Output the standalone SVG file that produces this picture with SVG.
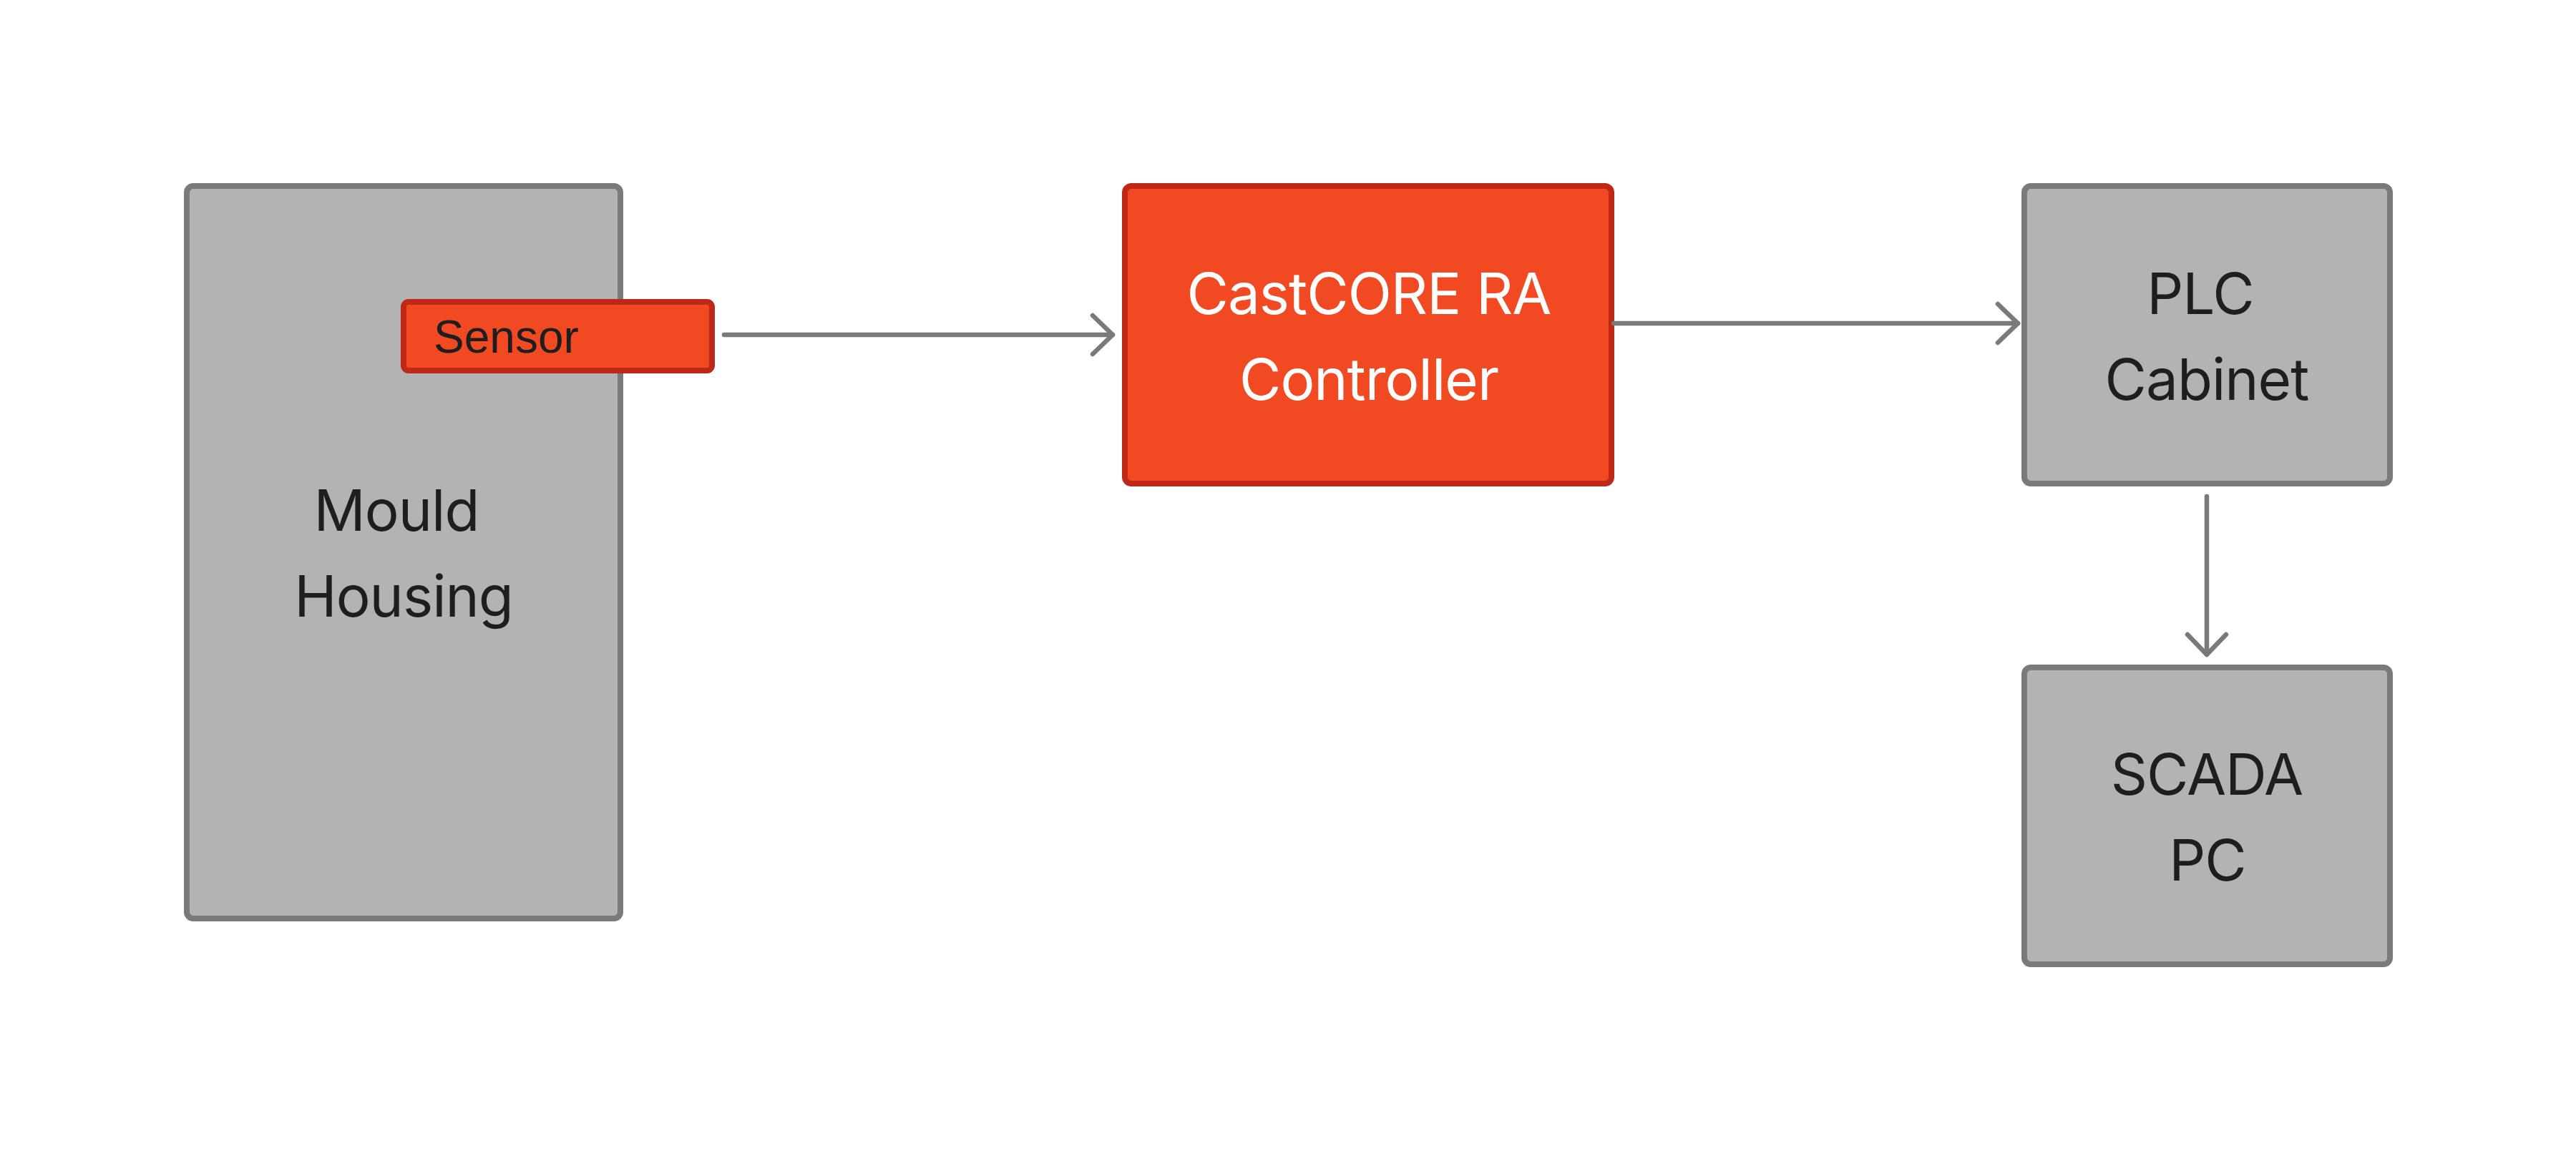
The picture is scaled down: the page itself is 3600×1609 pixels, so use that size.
<svg xmlns="http://www.w3.org/2000/svg" width="3600" height="1609" viewBox="0 0 3600 1609">
  <style>
    .gray { fill: #b3b3b3; stroke: #7a7a7a; stroke-width: 8; }
    .orange { fill: #f14a22; stroke: #bf2817; stroke-width: 8; }
    .lbl { font-family: Inter, "Noto Sans", "Liberation Sans", sans-serif; font-size: 80px; letter-spacing: -1px; fill: #1e1e1e; text-anchor: middle; }
    .lbl-w { font-family: Inter, "Noto Sans", "Liberation Sans", sans-serif; font-size: 80px; letter-spacing: -1px; fill: #ffffff; text-anchor: middle; }
    .small { font-family: "Liberation Sans", Arial, sans-serif; font-size: 64px; fill: #1e1e1e; }
    .conn { fill: none; stroke: #7a7a7a; stroke-width: 6.5; stroke-linecap: round; }
  </style>
  <defs>
    <marker id="arrow" markerUnits="userSpaceOnUse" viewBox="-36 -34 42 68" refX="0" refY="0" markerWidth="42" markerHeight="68" orient="auto">
      <path d="M-28,-27 L0,0 L-28,27" fill="none" stroke="#7a7a7a" stroke-width="6.5" stroke-linecap="round" stroke-linejoin="round"/>
    </marker>
  </defs>
  <rect width="3600" height="1609" fill="#ffffff"/>

  <g id="mould-housing">
    <rect class="gray" x="261" y="260" width="606" height="1024" rx="9"/>
    <text class="lbl" x="554" y="742">Mould</text>
    <text class="lbl" x="564" y="862">Housing</text>
  </g>

  <g id="sensor">
    <rect class="orange" x="564" y="422" width="431" height="96" rx="7"/>
    <text class="small" x="606" y="493">Sensor</text>
  </g>

  <g id="controller">
    <rect class="orange" x="1572" y="260" width="680" height="416" rx="9"/>
    <text class="lbl-w" x="1913" y="439">CastCORE RA</text>
    <text class="lbl-w" x="1913" y="559">Controller</text>
  </g>

  <g id="plc-cabinet">
    <rect class="gray" x="2829" y="260" width="511" height="416" rx="9"/>
    <text class="lbl" x="3075" y="439">PLC</text>
    <text class="lbl" x="3084" y="559">Cabinet</text>
  </g>

  <g id="scada-pc">
    <rect class="gray" x="2829" y="933" width="511" height="415" rx="9"/>
    <text class="lbl" x="3084" y="1111">SCADA</text>
    <text class="lbl" x="3085" y="1231">PC</text>
  </g>

  <g id="connectors">
    <path class="conn" d="M1012,468 L1555,468" marker-end="url(#arrow)"/>
    <path class="conn" d="M2255,452 L2820,452" marker-end="url(#arrow)"/>
    <path class="conn" d="M3084,694 L3084,915" marker-end="url(#arrow)"/>
  </g>
</svg>
